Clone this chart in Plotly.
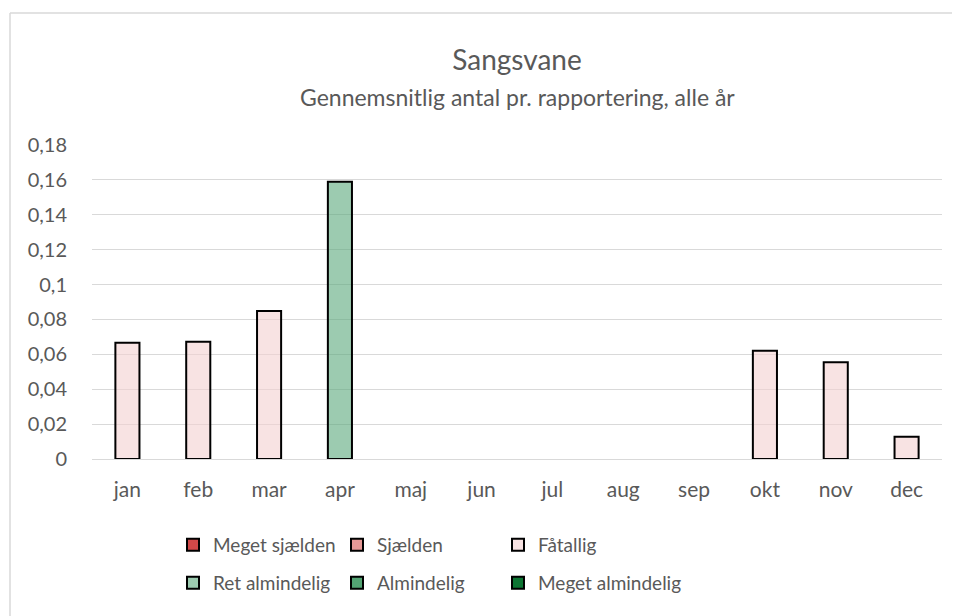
import plotly.graph_objects as go

months = ["jan", "feb", "mar", "apr", "maj", "jun", "jul", "aug", "sep", "okt", "nov", "dec"]
categories = ["Meget sjælden", "Sjælden", "Fåtallig", "Ret almindelig", "Almindelig", "Meget almindelig"]

meget_sjaelden = [None] * 12
sjaelden = [None] * 12
faatallig = [0.0667, 0.0672, 0.0848, None, None, None, None, None, None, 0.0620, 0.0554, 0.0128]
ret_almindelig = [None, None, None, 0.159, None, None, None, None, None, None, None, None]
almindelig = [None] * 12
meget_almindelig = [None] * 12

series = [meget_sjaelden, sjaelden, faatallig, ret_almindelig, almindelig, meget_almindelig]
colors = ["rgba(200,40,40,0.85)", "rgba(220,110,105,0.7)", "rgba(243,208,208,0.6)",
          "rgba(90,168,123,0.6)", "rgba(40,140,80,0.8)", "rgba(0,110,40,0.95)"]

FONT = "Lato, Open Sans, sans-serif"
GRAY = "#595959"

# figure sits at page offset (8, 8) because of the browser body margin
W, H = 952, 608
L, T = 84, 137
PW, PH = 850, 314
R, B = W - L - PW, H - T - PH

# legend slot positions (page pixels): left x of each entry, row centre y
leg_x = [173, 337, 498, 173, 337, 498]
leg_y = [545, 545, 545, 583, 583, 583]

fig = go.Figure()
legend_layouts = {}
for i, (name, vals, col) in enumerate(zip(categories, series, colors)):
    key = "legend" if i == 0 else f"legend{i + 1}"
    fig.add_trace(go.Bar(
        x=months, y=vals, name=name,
        marker=dict(color=col, line=dict(color="#000000", width=2)),
        width=0.34,
        legend=key, showlegend=True,
    ))
    legend_layouts[key] = dict(
        orientation="h", xanchor="left", yanchor="middle",
        x=(leg_x[i] - 8 - L) / PW, y=(PH - (leg_y[i] - 8 - T)) / PH,
        font=dict(size=19, color=GRAY, family=FONT), bgcolor="rgba(0,0,0,0)",
        itemclick=False, itemdoubleclick=False,
    )

fx0 = (2 - L) / PW
fx1 = (W + 30 - L) / PW
fy_top = (PH - (5 - T)) / PH
fy_bot = (PH - (H + 30 - T)) / PH
frame_line = dict(color="#d9d9d9", width=1.5)

fig.update_layout(
    width=W, height=H,
    showlegend=True,
    paper_bgcolor="white", plot_bgcolor="white",
    margin=dict(l=L, r=R, t=T, b=B),
    barmode="overlay",
    separators=", ",
    font=dict(family=FONT, color=GRAY, size=19),
    title=dict(
        text="Sangsvane",
        x=0.5, xanchor="center", xref="paper", y=1 - 52 / H, yanchor="middle",
        font=dict(family=FONT, size=28, color=GRAY),
    ),
    annotations=[dict(
        text="Gennemsnitlig antal pr. rapportering, alle år",
        xref="paper", yref="paper", x=0.5, y=(PH - (89 - T)) / PH,
        xanchor="center", yanchor="middle", showarrow=False,
        font=dict(family=FONT, size=23, color=GRAY),
    )],
    xaxis=dict(
        type="category", categoryorder="array", categoryarray=months,
        showgrid=False, showline=False, ticks="",
        tickfont=dict(size=21, color=GRAY), ticklabelstandoff=16,
    ),
    yaxis=dict(
        range=[0, 0.18], dtick=0.02, tick0=0,
        showgrid=True, gridcolor="#d9d9d9", gridwidth=1,
        zeroline=True, zerolinecolor="#d9d9d9", zerolinewidth=1,
        showline=False, ticks="", tickfont=dict(size=20, color=GRAY),
        ticklabelstandoff=24,
    ),
    shapes=[
        dict(type="line", xref="paper", yref="paper", x0=fx0, x1=fx1, y0=fy_top, y1=fy_top,
             line=frame_line, layer="below"),
        dict(type="line", xref="paper", yref="paper", x0=fx0, x1=fx0, y0=fy_bot, y1=fy_top,
             line=frame_line, layer="below"),
    ],
    **legend_layouts,
)

fig.write_html("out.html")
